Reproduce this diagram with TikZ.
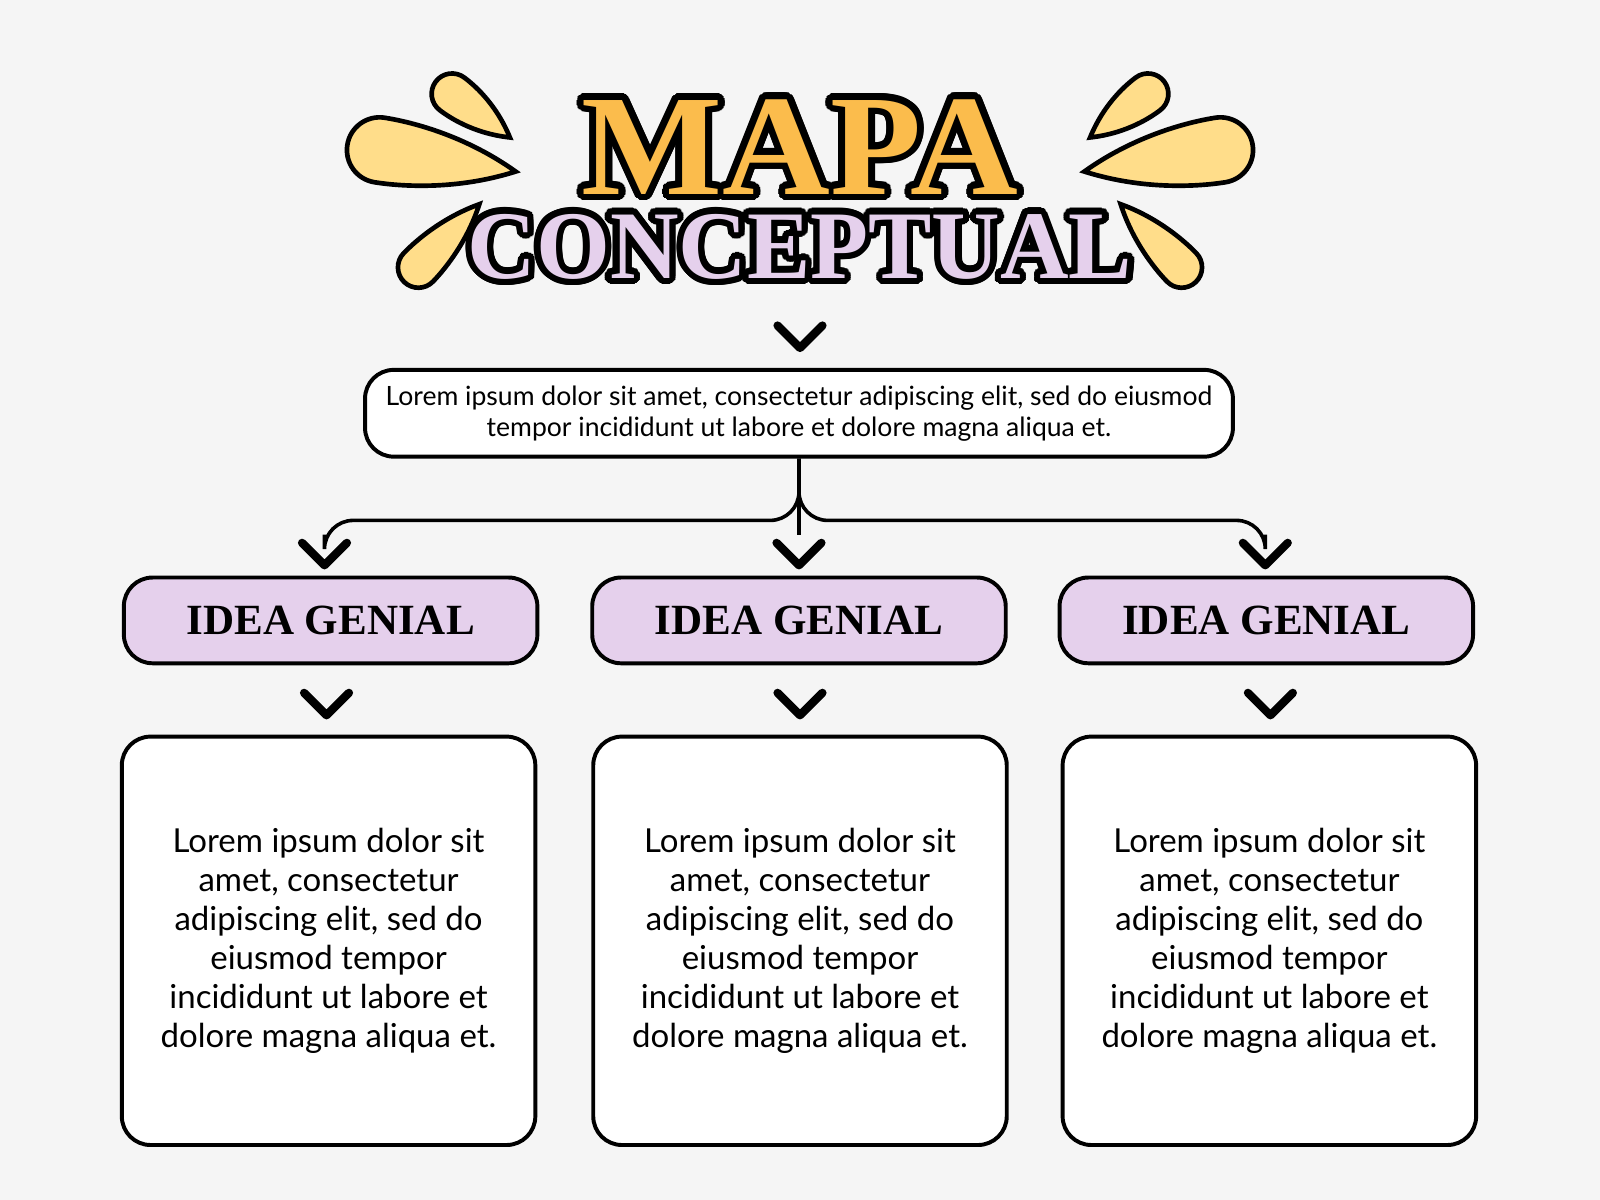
\documentclass[tikz,border=0pt]{standalone}
\usepackage{fontspec}
\setmainfont{Liberation Serif}
\newfontfamily\bodyfont{Lato}
\usepackage{contour}
\usetikzlibrary{positioning}
\definecolor{bgGrey}{HTML}{F5F5F5}
\definecolor{dropYellow}{HTML}{FFDD8A}
\definecolor{titleOrange}{HTML}{FBBC4C}
\definecolor{ideaLilac}{HTML}{E5D0EC}
\contourlength{1.8pt}
\contournumber{24}
\tikzset{
  lorem/.style={draw=black, line width=1.1pt, rounded corners=8pt, fill=white, align=center, font=\bodyfont},
  idea/.style={draw=black, line width=1.1pt, rounded corners=8pt, fill=ideaLilac, minimum width=4.05cm, minimum height=0.84cm, font=\fontsize{12}{14}\selectfont\bfseries},
  body/.style={lorem, minimum width=4.05cm, minimum height=4cm, font=\bodyfont\fontsize{9.2}{10.9}\selectfont},
  chev/.style={line width=2.3pt, line cap=round, line join=round},
  link/.style={line width=1pt, rounded corners=8pt}
}
% teardrop: x, y, rotate, length, radius
\newcommand\splash[5]{%
  \begin{scope}[shift={(#1,#2)}, rotate=#3]
    \draw[fill=dropYellow, line width=1.3pt] (#4,0) .. controls (#4*0.55,#5*0.95) and (#5*0.5,#5) .. (0,#5)
      arc (90:270:#5) .. controls (#5*0.5,-#5) and (#4*0.55,-#5*0.95) .. (#4,0) -- cycle;
  \end{scope}}
\newcommand\chevron[2]{\draw[chev] (#1-22,#2-11) -- (#1,#2+11) -- (#1+22,#2-11);}
\newcommand\loremtext{Lorem ipsum dolor sit\\amet, consectetur\\adipiscing elit, sed do\\eiusmod tempor\\incididunt ut labore et\\dolore magna aliqua et.}
\begin{document}
\begin{tikzpicture}[x=0.01cm, y=-0.01cm]
\fill[bgGrey] (0,0) rectangle (1568,1176);
\useasboundingbox (0,0) rectangle (1568,1176);

% splashes
\foreach \s in {1,-1}{
  \begin{scope}[shift={(784,0)}, xscale=\s, shift={(-784,0)}]
    \splash{443}{92}{-37}{71}{20}
    \splash{372}{147}{-9}{135}{32}
    \splash{410}{262}{46}{86}{20}
  \end{scope}}

% title
\node[inner sep=0pt] (mapa) at (784,147) {\fontsize{40}{40}\selectfont\bfseries\scalebox{1.04}[1]{\contour{black}{\textcolor{titleOrange}{MAPA}}}};
\node[inner sep=0pt] (concept) at (784,245) {\fontsize{27}{27}\selectfont\bfseries\scalebox{0.98}[1]{\contour{black}{\textcolor{ideaLilac}{CONCEPTUAL}}}};

\chevron{784}{330}

% main box
\node[lorem, minimum width=8.5cm, minimum height=0.85cm, font=\bodyfont\fontsize{7.4}{8.6}\selectfont] (top) at (783,405)
  {Lorem ipsum dolor sit amet, consectetur adipiscing elit, sed do eiusmod\\tempor incididunt ut labore et dolore magna aliqua et.};

% branches
\coordinate (bl) at (318,524);
\coordinate (bc) at (783,524);
\coordinate (br) at (1240,524);
\draw[link] (top.south) -- (783,510) -| (bl);
\draw[link] (top.south) -- (783,510) -| (br);
\draw[line width=1pt] (top.south) -- (bc);

\chevron{318}{543}
\chevron{783}{543}
\chevron{1240}{543}

% ideas
\node[idea] (ideaA) at (324,608) {IDEA GENIAL};
\node[idea] (ideaB) at (783,608) {IDEA GENIAL};
\node[idea] (ideaC) at (1241,608) {IDEA GENIAL};

\chevron{320}{690}
\chevron{784}{690}
\chevron{1245}{690}

\node[body] (bodyA) at (322,922) {\loremtext};
\node[body] (bodyB) at (784,922) {\loremtext};
\node[body] (bodyC) at (1244,922) {\loremtext};
\end{tikzpicture}
\end{document}
